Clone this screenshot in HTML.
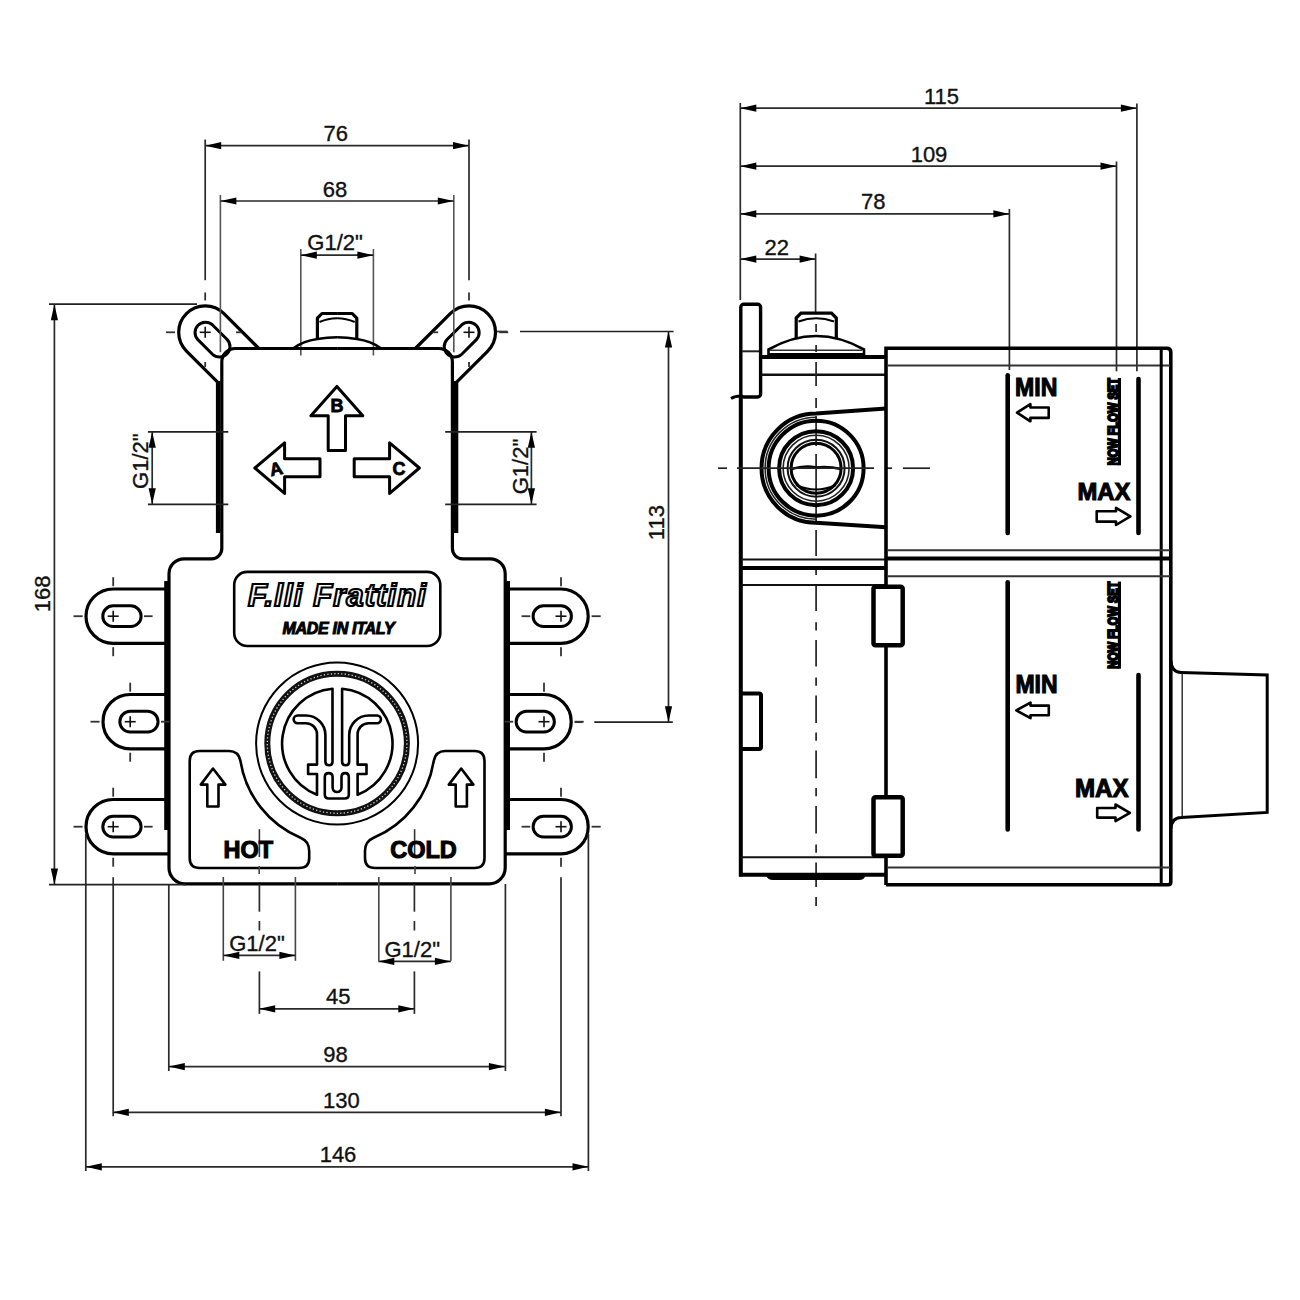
<!DOCTYPE html><html><head><meta charset="utf-8"><style>html,body{margin:0;padding:0;background:#fff;}svg{display:block;}text{font-family:"Liberation Sans",sans-serif;}</style></head><body>
<svg width="1300" height="1300" viewBox="0 0 1300 1300">
<rect width="1300" height="1300" fill="#fff"/>
<g id="half" stroke-linecap="butt" stroke-linejoin="round">
<path d="M258.88,348.5 L223.94,313.56 A26.5,26.5 0 0 0 186.46,313.56 A26.5,26.5 0 0 0 186.46,351.04 L217.82,382.4" stroke="#000" stroke-width="3.2" fill="none" />
<path d="M212.55,324.95 L227.15,339.55 A10.4,10.4 0 0 1 212.45,354.25 L197.85,339.65 A10.4,10.4 0 0 1 212.55,324.95 Z" stroke="#000" stroke-width="3" fill="none" />
<line x1="199.7" y1="332.3" x2="210.7" y2="332.3" stroke="#111" stroke-width="1.6" />
<line x1="205.2" y1="326.8" x2="205.2" y2="337.8" stroke="#111" stroke-width="1.6" />
<line x1="166" y1="332.3" x2="175" y2="332.3" stroke="#333" stroke-width="1.8" />
<line x1="236" y1="332.3" x2="241.5" y2="332.3" stroke="#333" stroke-width="1.8" />
<line x1="205.2" y1="362" x2="205.2" y2="367" stroke="#333" stroke-width="1.8" />
<line x1="205.2" y1="139.5" x2="205.2" y2="280.2" stroke="#2a2a2a" stroke-width="1.7" />
<line x1="205.2" y1="292.5" x2="205.2" y2="300.5" stroke="#2a2a2a" stroke-width="1.7" />
<line x1="220.4" y1="195" x2="220.4" y2="352.2" stroke="#555" stroke-width="1.6" />
<line x1="300.8" y1="249" x2="300.8" y2="355.5" stroke="#555" stroke-width="1.6" />
<path d="M235.4,348.5 L337.1,348.5 M221.8,362.1 A13.6,13.6 0 0 1 235.4,348.5 M337.1,883.8 L185,883.8 A16,16 0 0 1 169,867.8 L169,573.8 A15,15 0 0 1 184,558.8 L211.6,558.8 A10.2,10.2 0 0 0 221.8,548.6 L221.8,362.1" stroke="#000" stroke-width="3.2" fill="none" />
<line x1="218.2" y1="381" x2="218.2" y2="533" stroke="#000" stroke-width="4.6" />
<line x1="166.2" y1="581" x2="166.2" y2="830" stroke="#000" stroke-width="4" />
<path d="M166.2,589 L113.2,589 A27.2,27.2 0 0 0 113.2,643.4 L166.2,643.4" stroke="#000" stroke-width="3.2" fill="none" />
<path d="M113.2,605.8 L130.7,605.8 A10.4,10.4 0 0 1 130.7,626.6 L113.2,626.6 A10.4,10.4 0 0 1 113.2,605.8 Z" stroke="#000" stroke-width="3" fill="none" />
<line x1="107.7" y1="616.2" x2="118.7" y2="616.2" stroke="#111" stroke-width="1.6" />
<line x1="113.2" y1="610.7" x2="113.2" y2="621.7" stroke="#111" stroke-width="1.6" />
<line x1="73.5" y1="616.2" x2="82.6" y2="616.2" stroke="#333" stroke-width="1.8" />
<line x1="144" y1="616.2" x2="152.6" y2="616.2" stroke="#333" stroke-width="1.8" />
<line x1="113.2" y1="577.2" x2="113.2" y2="586.2" stroke="#333" stroke-width="1.8" />
<line x1="113.2" y1="647.2" x2="113.2" y2="656.2" stroke="#333" stroke-width="1.8" />
<path d="M166.2,694.5 L130.2,694.5 A27.2,27.2 0 0 0 130.2,748.9 L166.2,748.9" stroke="#000" stroke-width="3.2" fill="none" />
<path d="M130.2,711.3 L147.7,711.3 A10.4,10.4 0 0 1 147.7,732.1 L130.2,732.1 A10.4,10.4 0 0 1 130.2,711.3 Z" stroke="#000" stroke-width="3" fill="none" />
<line x1="124.7" y1="721.7" x2="135.7" y2="721.7" stroke="#111" stroke-width="1.6" />
<line x1="130.2" y1="716.2" x2="130.2" y2="727.2" stroke="#111" stroke-width="1.6" />
<line x1="90.5" y1="721.7" x2="99.6" y2="721.7" stroke="#333" stroke-width="1.8" />
<line x1="161" y1="721.7" x2="169.6" y2="721.7" stroke="#333" stroke-width="1.8" />
<line x1="130.2" y1="682.7" x2="130.2" y2="691.7" stroke="#333" stroke-width="1.8" />
<line x1="130.2" y1="752.7" x2="130.2" y2="761.7" stroke="#333" stroke-width="1.8" />
<path d="M166.2,799.5 L113.2,799.5 A27.2,27.2 0 0 0 113.2,853.9 L169.5,853.9" stroke="#000" stroke-width="3.2" fill="none" />
<path d="M113.2,816.3 L130.7,816.3 A10.4,10.4 0 0 1 130.7,837.1 L113.2,837.1 A10.4,10.4 0 0 1 113.2,816.3 Z" stroke="#000" stroke-width="3" fill="none" />
<line x1="107.7" y1="826.7" x2="118.7" y2="826.7" stroke="#111" stroke-width="1.6" />
<line x1="113.2" y1="821.2" x2="113.2" y2="832.2" stroke="#111" stroke-width="1.6" />
<line x1="73.5" y1="826.7" x2="82.6" y2="826.7" stroke="#333" stroke-width="1.8" />
<line x1="144" y1="826.7" x2="152.6" y2="826.7" stroke="#333" stroke-width="1.8" />
<line x1="113.2" y1="787.7" x2="113.2" y2="796.7" stroke="#333" stroke-width="1.8" />
<line x1="113.2" y1="857.7" x2="113.2" y2="866.7" stroke="#333" stroke-width="1.8" />
<line x1="113.2" y1="877.2" x2="113.2" y2="1116.2" stroke="#2a2a2a" stroke-width="1.7" />
<line x1="85.8" y1="834" x2="85.8" y2="1171" stroke="#2a2a2a" stroke-width="1.7" />
<line x1="168.8" y1="884" x2="168.8" y2="1071" stroke="#2a2a2a" stroke-width="1.7" />
<path d="M317.4,339.5 L317.4,318.2 L322,313.5 L337.1,313.5" stroke="#000" stroke-width="3.2" fill="none" />
<path d="M319.5,322 Q328,318.2 337.1,318.2" stroke="#000" stroke-width="2" fill="none" />
<path d="M293,348.5 Q303,341 317.4,339 Q327,337.3 337.1,337.3" stroke="#000" stroke-width="2.6" fill="none" />
<path d="M189.7,761 Q189.7,751 199.7,751 L229,751 Q238.5,751 240.5,761 A100,100 0 0 0 301,838 Q309.2,841.5 309.2,851 L309.2,858 Q309.2,868 299.2,868 L199.7,868 Q189.7,868 189.7,858 Z" stroke="#000" stroke-width="2.6" fill="none" />
<path d="M213,768.5 L225.4,784.6 L218.5,784.6 L218.5,806.5 L207.3,806.5 L207.3,784.6 L200.8,784.6 Z" stroke="#000" stroke-width="2.6" fill="none" />
<line x1="223.3" y1="877" x2="223.3" y2="960.8" stroke="#444" stroke-width="1.6" />
<line x1="295.4" y1="877" x2="295.4" y2="960.8" stroke="#444" stroke-width="1.6" />
<line x1="259.2" y1="866" x2="259.2" y2="874" stroke="#444" stroke-width="1.6" />
</g>
<use href="#half" transform="matrix(-1 0 0 1 674.2 0)"/>
<line x1="49" y1="304.2" x2="197" y2="304.2" stroke="#222" stroke-width="1.7" />
<line x1="49" y1="884.6" x2="186" y2="884.6" stroke="#222" stroke-width="1.7" />
<line x1="54.4" y1="304.2" x2="54.4" y2="884.6" stroke="#2a2a2a" stroke-width="1.7" />
<path d="M54.4,304.2 L58,320.2 L50.8,320.2 Z" fill="#000"/>
<path d="M54.4,884.6 L50.8,868.6 L58,868.6 Z" fill="#000"/>
<text x="50.5" y="593.8" font-size="22" text-anchor="middle" fill="#111" stroke="#111" stroke-width="0.35" transform="rotate(-90 50.5 593.8)" >168</text>
<line x1="147.9" y1="431.8" x2="228.3" y2="431.8" stroke="#222" stroke-width="1.7" />
<line x1="147.9" y1="504.3" x2="228.3" y2="504.3" stroke="#222" stroke-width="1.7" />
<line x1="152.2" y1="431.8" x2="152.2" y2="504.3" stroke="#2a2a2a" stroke-width="1.7" />
<path d="M152.2,431.8 L155.8,447.8 L148.6,447.8 Z" fill="#000"/>
<path d="M152.2,504.3 L148.6,488.3 L155.8,488.3 Z" fill="#000"/>
<text x="148.5" y="461.2" font-size="22" text-anchor="middle" fill="#111" stroke="#111" stroke-width="0.35" transform="rotate(-90 148.5 461.2)" >G1/2"</text>
<line x1="445.2" y1="431.8" x2="536.6" y2="431.8" stroke="#222" stroke-width="1.7" />
<line x1="445.2" y1="504.3" x2="536.6" y2="504.3" stroke="#222" stroke-width="1.7" />
<line x1="531.4" y1="431.8" x2="531.4" y2="504.3" stroke="#2a2a2a" stroke-width="1.7" />
<path d="M531.4,431.8 L535,447.8 L527.8,447.8 Z" fill="#000"/>
<path d="M531.4,504.3 L527.8,488.3 L535,488.3 Z" fill="#000"/>
<text x="527.5" y="466.5" font-size="22" text-anchor="middle" fill="#111" stroke="#111" stroke-width="0.35" transform="rotate(-90 527.5 466.5)" >G1/2"</text>
<line x1="497" y1="331.5" x2="507.5" y2="331.5" stroke="#333" stroke-width="1.7" />
<line x1="520" y1="331.5" x2="673.6" y2="331.5" stroke="#222" stroke-width="1.7" />
<line x1="574.7" y1="722.2" x2="582.6" y2="722.2" stroke="#333" stroke-width="1.7" />
<line x1="594.3" y1="722.2" x2="672.8" y2="722.2" stroke="#222" stroke-width="1.7" />
<line x1="668.5" y1="331.5" x2="668.5" y2="722.2" stroke="#2a2a2a" stroke-width="1.7" />
<path d="M668.5,331.5 L672.1,347.5 L664.9,347.5 Z" fill="#000"/>
<path d="M668.5,722.2 L664.9,706.2 L672.1,706.2 Z" fill="#000"/>
<text x="664.5" y="522.6" font-size="22" text-anchor="middle" fill="#111" stroke="#111" stroke-width="0.35" transform="rotate(-90 664.5 522.6)" >113</text>
<line x1="205.2" y1="145.7" x2="469" y2="145.7" stroke="#2a2a2a" stroke-width="1.7" />
<path d="M205.2,145.7 L221.2,142.1 L221.2,149.3 Z" fill="#000"/>
<path d="M469,145.7 L453,149.3 L453,142.1 Z" fill="#000"/>
<text x="335.7" y="140.8" font-size="22" text-anchor="middle" fill="#111" stroke="#111" stroke-width="0.35" >76</text>
<line x1="220.4" y1="201" x2="453.8" y2="201" stroke="#2a2a2a" stroke-width="1.7" />
<path d="M220.4,201 L236.4,197.4 L236.4,204.6 Z" fill="#000"/>
<path d="M453.8,201 L437.8,204.6 L437.8,197.4 Z" fill="#000"/>
<text x="335" y="197" font-size="22" text-anchor="middle" fill="#111" stroke="#111" stroke-width="0.35" >68</text>
<line x1="300.8" y1="255.2" x2="373.4" y2="255.2" stroke="#2a2a2a" stroke-width="1.7" />
<path d="M300.8,255.2 L316.8,251.6 L316.8,258.8 Z" fill="#000"/>
<path d="M373.4,255.2 L357.4,258.8 L357.4,251.6 Z" fill="#000"/>
<text x="335.1" y="250" font-size="22" text-anchor="middle" fill="#111" stroke="#111" stroke-width="0.35" >G1/2"</text>
<line x1="223.3" y1="955.4" x2="295.4" y2="955.4" stroke="#2a2a2a" stroke-width="1.7" />
<path d="M223.3,955.4 L239.3,951.8 L239.3,959 Z" fill="#000"/>
<path d="M295.4,955.4 L279.4,959 L279.4,951.8 Z" fill="#000"/>
<text x="257" y="951" font-size="22" text-anchor="middle" fill="#111" stroke="#111" stroke-width="0.35" >G1/2"</text>
<line x1="378.3" y1="961.4" x2="450.9" y2="961.4" stroke="#2a2a2a" stroke-width="1.7" />
<path d="M378.3,961.4 L394.3,957.8 L394.3,965 Z" fill="#000"/>
<path d="M450.9,961.4 L434.9,965 L434.9,957.8 Z" fill="#000"/>
<text x="412.2" y="956.5" font-size="22" text-anchor="middle" fill="#111" stroke="#111" stroke-width="0.35" >G1/2"</text>
<line x1="259.4" y1="884" x2="259.4" y2="911.7" stroke="#2a2a2a" stroke-width="1.7" />
<line x1="259.4" y1="921" x2="259.4" y2="930.5" stroke="#2a2a2a" stroke-width="1.7" />
<line x1="259.4" y1="971.4" x2="259.4" y2="1013.9" stroke="#2a2a2a" stroke-width="1.7" />
<line x1="414.4" y1="884" x2="414.4" y2="911.7" stroke="#2a2a2a" stroke-width="1.7" />
<line x1="414.4" y1="921" x2="414.4" y2="930.5" stroke="#2a2a2a" stroke-width="1.7" />
<line x1="414.4" y1="971.4" x2="414.4" y2="1013.9" stroke="#2a2a2a" stroke-width="1.7" />
<line x1="259.2" y1="1008.8" x2="414.3" y2="1008.8" stroke="#2a2a2a" stroke-width="1.7" />
<path d="M259.2,1008.8 L275.2,1005.2 L275.2,1012.4 Z" fill="#000"/>
<path d="M414.3,1008.8 L398.3,1012.4 L398.3,1005.2 Z" fill="#000"/>
<text x="338.2" y="1003.8" font-size="22" text-anchor="middle" fill="#111" stroke="#111" stroke-width="0.35" >45</text>
<line x1="168.8" y1="1066.6" x2="504.9" y2="1066.6" stroke="#2a2a2a" stroke-width="1.7" />
<path d="M168.8,1066.6 L184.8,1063 L184.8,1070.2 Z" fill="#000"/>
<path d="M504.9,1066.6 L488.9,1070.2 L488.9,1063 Z" fill="#000"/>
<text x="335.5" y="1062.3" font-size="22" text-anchor="middle" fill="#111" stroke="#111" stroke-width="0.35" >98</text>
<line x1="112.8" y1="1112.3" x2="560.9" y2="1112.3" stroke="#2a2a2a" stroke-width="1.7" />
<path d="M112.8,1112.3 L128.8,1108.7 L128.8,1115.9 Z" fill="#000"/>
<path d="M560.9,1112.3 L544.9,1115.9 L544.9,1108.7 Z" fill="#000"/>
<text x="341.4" y="1107.5" font-size="22" text-anchor="middle" fill="#111" stroke="#111" stroke-width="0.35" >130</text>
<line x1="85.8" y1="1166.8" x2="588.5" y2="1166.8" stroke="#2a2a2a" stroke-width="1.7" />
<path d="M85.8,1166.8 L101.8,1163.2 L101.8,1170.4 Z" fill="#000"/>
<path d="M588.5,1166.8 L572.5,1170.4 L572.5,1163.2 Z" fill="#000"/>
<text x="338" y="1161.8" font-size="22" text-anchor="middle" fill="#111" stroke="#111" stroke-width="0.35" >146</text>
<path d="M336.9,386.4 L362.8,415.8 L345.5,415.8 L345.5,450.5 L328.2,450.5 L328.2,415.8 L310.9,415.8 Z" stroke="#000" stroke-width="3" fill="none" stroke-linejoin="round"/>
<path d="M254.8,468 L284.6,442.8 L284.6,458.8 L320,458.8 L320,476.8 L284.6,476.8 L284.6,493.4 Z" stroke="#000" stroke-width="3" fill="none" stroke-linejoin="round"/>
<path d="M419.4,468 L389.6,442.8 L389.6,458.8 L354.2,458.8 L354.2,476.8 L389.6,476.8 L389.6,493.4 Z" stroke="#000" stroke-width="3" fill="none" stroke-linejoin="round"/>
<text x="337" y="412" font-size="18" font-weight="bold" text-anchor="middle" fill="#000" stroke="#000" stroke-width="0.8">B</text>
<text x="276" y="475" font-size="18" font-weight="bold" text-anchor="middle" fill="#000" stroke="#000" stroke-width="0.8" transform="rotate(-12 276 468)">A</text>
<text x="399" y="475" font-size="18" font-weight="bold" text-anchor="middle" fill="#000" stroke="#000" stroke-width="0.8">C</text>
<rect x="234.2" y="571.9" width="206.1" height="74.1" rx="13" fill="none" stroke="#000" stroke-width="2.6"/>
<text x="337.5" y="605.5" font-size="31" font-weight="bold" font-style="italic" text-anchor="middle" fill="#fff" stroke="#000" stroke-width="2.2" letter-spacing="1.1">F.lli Frattini</text>
<text x="338.5" y="634" font-size="16" font-weight="bold" font-style="italic" text-anchor="middle" fill="#000" stroke="#000" stroke-width="1" letter-spacing="-0.3">MADE IN ITALY</text>
<circle cx="337.1" cy="743.5" r="81" fill="none" stroke="#000" stroke-width="2"/>
<circle cx="337.1" cy="743.5" r="69.8" fill="none" stroke="#111" stroke-width="6"/>
<circle cx="337.1" cy="743.5" r="69.8" fill="none" stroke="#fff" stroke-width="1.3" stroke-dasharray="1.3 2.2" opacity="0.8"/>
<g id="logoL" stroke-linejoin="round">
<path d="M332.5,688.7 A55,55 0 0 0 317,794.7 L317,774 L308.1,774 L308.1,764.6 L317,764.6 L317,734.5 A11.1,11.1 0 0 0 305.9,723.2 L297.5,723.2 A3.85,3.85 0 0 1 297.5,715.5 L305.9,715.5 A19.5,19.5 0 0 1 325.4,735 L325.4,761.5 Q325.4,765.3 329,765.3 Q332.5,765.3 332.5,761.5 Z" stroke="#000" stroke-width="2.6" fill="none" />
</g>
<use href="#logoL" transform="matrix(-1 0 0 1 674.6 0)"/>
<path d="M324.8,794.5 L324.8,777 Q324.8,773.1 328.7,773.1 Q332.6,773.1 332.6,777 L332.6,787.6 A4.45,4.45 0 0 0 341.5,787.6 L341.5,777 Q341.5,773.1 345.15,773.1 Q348.8,773.1 348.8,777 L348.8,794.5 Q348.8,798.5 344.8,798.5 L328.8,798.5 Q324.8,798.5 324.8,794.5 Z" stroke="#000" stroke-width="2.6" fill="none" />
<line x1="259.4" y1="829.2" x2="259.4" y2="857" stroke="#333" stroke-width="1.6" />
<line x1="414.6" y1="829.2" x2="414.6" y2="857" stroke="#333" stroke-width="1.6" />
<text x="248.4" y="858.3" font-size="23.5" font-weight="bold" text-anchor="middle" fill="#000" stroke="#000" stroke-width="1.1">HOT</text>
<text x="423.5" y="857.8" font-size="23.5" font-weight="bold" text-anchor="middle" fill="#000" stroke="#000" stroke-width="1.1">COLD</text>
<line x1="740.3" y1="103" x2="740.3" y2="300" stroke="#2a2a2a" stroke-width="1.7" />
<line x1="740.3" y1="108.2" x2="1136.9" y2="108.2" stroke="#2a2a2a" stroke-width="1.7" />
<path d="M740.3,108.2 L756.3,104.6 L756.3,111.8 Z" fill="#000"/>
<path d="M1136.9,108.2 L1120.9,111.8 L1120.9,104.6 Z" fill="#000"/>
<text x="941.5" y="104" font-size="22" text-anchor="middle" fill="#111" stroke="#111" stroke-width="0.35" >115</text>
<line x1="1136.9" y1="103.4" x2="1136.9" y2="371.3" stroke="#2a2a2a" stroke-width="1.7" />
<line x1="740.3" y1="166.2" x2="1116.5" y2="166.2" stroke="#2a2a2a" stroke-width="1.7" />
<path d="M740.3,166.2 L756.3,162.6 L756.3,169.8 Z" fill="#000"/>
<path d="M1116.5,166.2 L1100.5,169.8 L1100.5,162.6 Z" fill="#000"/>
<text x="929" y="162.2" font-size="22" text-anchor="middle" fill="#111" stroke="#111" stroke-width="0.35" >109</text>
<line x1="1116.5" y1="161.5" x2="1116.5" y2="371.3" stroke="#2a2a2a" stroke-width="1.7" />
<line x1="740.3" y1="213.9" x2="1009.4" y2="213.9" stroke="#2a2a2a" stroke-width="1.7" />
<path d="M740.3,213.9 L756.3,210.3 L756.3,217.5 Z" fill="#000"/>
<path d="M1009.4,213.9 L993.4,217.5 L993.4,210.3 Z" fill="#000"/>
<text x="873.2" y="209.2" font-size="22" text-anchor="middle" fill="#111" stroke="#111" stroke-width="0.35" >78</text>
<line x1="1009.4" y1="208.9" x2="1009.4" y2="370" stroke="#2a2a2a" stroke-width="1.7" />
<line x1="740.3" y1="259.1" x2="815.6" y2="259.1" stroke="#2a2a2a" stroke-width="1.7" />
<path d="M740.3,259.1 L756.3,255.5 L756.3,262.7 Z" fill="#000"/>
<path d="M815.6,259.1 L799.6,262.7 L799.6,255.5 Z" fill="#000"/>
<text x="776.7" y="254.5" font-size="22" text-anchor="middle" fill="#111" stroke="#111" stroke-width="0.35" >22</text>
<line x1="815.6" y1="253.5" x2="815.6" y2="313" stroke="#2a2a2a" stroke-width="1.7" />
<rect x="740.8" y="304.2" width="19.8" height="92.8" rx="3" fill="none" stroke="#000" stroke-width="3.4"/>
<line x1="742" y1="351.3" x2="759" y2="351.3" stroke="#222" stroke-width="2" />
<path d="M731,398.5 Q735,396 741,396" stroke="#000" stroke-width="3" fill="none" />
<line x1="740.8" y1="397" x2="740.8" y2="876.5" stroke="#000" stroke-width="4" />
<line x1="760.6" y1="357" x2="886" y2="357" stroke="#000" stroke-width="4" />
<line x1="760.6" y1="374.7" x2="886" y2="374.7" stroke="#111" stroke-width="2.4" />
<path d="M796.2,338.5 L796.2,318 L801,313.2 L831.5,313.2 L836.3,318 L836.3,338.5" stroke="#000" stroke-width="3.2" fill="none" />
<path d="M798.5,321.5 Q816.2,315 834,321.5" stroke="#000" stroke-width="2" fill="none" />
<path d="M768.5,355 L768.5,349.5 Q816.2,322.5 864,349.5 L864,355" stroke="#000" stroke-width="2.6" fill="none" />
<line x1="768.5" y1="355" x2="864" y2="355" stroke="#000" stroke-width="4" />
<line x1="770" y1="350.3" x2="862" y2="350.3" stroke="#333" stroke-width="1.6" />
<line x1="816.1" y1="324" x2="816.1" y2="332" stroke="#222" stroke-width="1.7" />
<line x1="816.1" y1="345" x2="816.1" y2="352" stroke="#222" stroke-width="1.7" />
<line x1="816.1" y1="362" x2="816.1" y2="386" stroke="#222" stroke-width="1.7" />
<line x1="816.1" y1="398" x2="816.1" y2="408" stroke="#222" stroke-width="1.7" />
<line x1="816.1" y1="416" x2="816.1" y2="446" stroke="#222" stroke-width="1.7" />
<line x1="816.1" y1="454" x2="816.1" y2="522" stroke="#222" stroke-width="1.7" />
<line x1="816.1" y1="530" x2="816.1" y2="556" stroke="#222" stroke-width="1.7" />
<line x1="816.1" y1="567" x2="816.1" y2="575" stroke="#222" stroke-width="1.7" />
<line x1="816.1" y1="584.9" x2="816.1" y2="611.1" stroke="#222" stroke-width="1.7" />
<line x1="816.1" y1="622.2" x2="816.1" y2="630.4" stroke="#222" stroke-width="1.7" />
<line x1="816.1" y1="640.1" x2="816.1" y2="666.4" stroke="#222" stroke-width="1.7" />
<line x1="816.1" y1="677.4" x2="816.1" y2="685.7" stroke="#222" stroke-width="1.7" />
<line x1="816.1" y1="695.4" x2="816.1" y2="723" stroke="#222" stroke-width="1.7" />
<line x1="816.1" y1="732.4" x2="816.1" y2="740.7" stroke="#222" stroke-width="1.7" />
<line x1="816.1" y1="750.6" x2="816.1" y2="778.2" stroke="#222" stroke-width="1.7" />
<line x1="816.1" y1="787.9" x2="816.1" y2="796.2" stroke="#222" stroke-width="1.7" />
<line x1="816.1" y1="805.9" x2="816.1" y2="833.5" stroke="#222" stroke-width="1.7" />
<line x1="816.1" y1="844.5" x2="816.1" y2="852.8" stroke="#222" stroke-width="1.7" />
<line x1="816.1" y1="862.5" x2="816.1" y2="887" stroke="#222" stroke-width="1.7" />
<line x1="816.1" y1="897" x2="816.1" y2="906" stroke="#222" stroke-width="1.7" />
<path d="M886,408.5 L816.1,413.6 A54.6,54.6 0 0 0 816.1,522.8 L886,527.2" stroke="#000" stroke-width="4" fill="none" />
<path d="M816.1,417.2 A51,51 0 0 0 816.1,519.2" stroke="#222" stroke-width="1.5" fill="none" />
<circle cx="816.1" cy="468.2" r="47.5" fill="none" stroke="#000" stroke-width="4" />
<circle cx="816.1" cy="468.2" r="37" fill="none" stroke="#000" stroke-width="4" />
<circle cx="816.1" cy="468.2" r="33" fill="none" stroke="#222" stroke-width="1.6" />
<circle cx="816.1" cy="468.2" r="28.5" fill="none" stroke="#111" stroke-width="2" />
<circle cx="816.1" cy="468.2" r="25" fill="none" stroke="#000" stroke-width="3" />
<path d="M791.5,469 Q805,465 816,467.5 Q828,466 841,469" stroke="#000" stroke-width="2.4" fill="none" />
<path d="M796,485 Q816,494 836,485" stroke="#000" stroke-width="2" fill="none" />
<line x1="718" y1="468.2" x2="727" y2="468.2" stroke="#222" stroke-width="1.7" />
<line x1="737" y1="468.2" x2="874" y2="468.2" stroke="#222" stroke-width="1.7" />
<line x1="885.6" y1="468.2" x2="892" y2="468.2" stroke="#222" stroke-width="1.7" />
<line x1="903" y1="468.2" x2="930" y2="468.2" stroke="#222" stroke-width="1.7" />
<line x1="741" y1="559.5" x2="886" y2="559.5" stroke="#111" stroke-width="2" />
<line x1="741" y1="567.9" x2="886" y2="567.9" stroke="#000" stroke-width="4" />
<line x1="741" y1="585" x2="886" y2="585" stroke="#111" stroke-width="2" />
<line x1="741" y1="857.3" x2="886" y2="857.3" stroke="#111" stroke-width="2" />
<line x1="739" y1="874.8" x2="886" y2="874.8" stroke="#000" stroke-width="4" />
<path d="M765.5,874.5 Q767.5,880 773,880 L859,880 Q864.5,880 866,874.5 Z" fill="#000"/>
<path d="M741,693.5 L759,693.5 Q761,693.5 761,695.5 L761,747 Q761,749 759,749 L741,749" stroke="#000" stroke-width="4" fill="none" />
<path d="M886,885 L886,348.3 L1166.8,348.3 Q1170.8,348.3 1170.8,352.3 L1170.8,882 Q1170.8,884.7 1168,884.7 L886,884.7" stroke="#000" stroke-width="3.6" fill="none" />
<line x1="887" y1="365.5" x2="1170" y2="365.5" stroke="#333" stroke-width="2" />
<line x1="1161.2" y1="349" x2="1161.2" y2="884" stroke="#000" stroke-width="3" />
<line x1="887" y1="550.2" x2="1170" y2="550.2" stroke="#333" stroke-width="2" />
<line x1="887" y1="558.5" x2="1170" y2="558.5" stroke="#000" stroke-width="4" />
<line x1="887" y1="576.2" x2="1170" y2="576.2" stroke="#333" stroke-width="2" />
<line x1="887" y1="867.4" x2="1170" y2="867.4" stroke="#333" stroke-width="2" />
<rect x="873.5" y="586.8" width="29.2" height="58.5" rx="2" fill="#fff" stroke="#000" stroke-width="4.5"/>
<rect x="873.5" y="797.3" width="29.2" height="58.5" rx="2" fill="#fff" stroke="#000" stroke-width="4.5"/>
<line x1="1007.7" y1="375.2" x2="1007.7" y2="532.9" stroke="#000" stroke-width="4.6" stroke-linecap="round"/>
<line x1="1007.7" y1="582.2" x2="1007.7" y2="829.4" stroke="#000" stroke-width="4.6" stroke-linecap="round"/>
<line x1="1138.5" y1="379" x2="1138.5" y2="532.9" stroke="#000" stroke-width="4.6" stroke-linecap="round"/>
<line x1="1138.5" y1="675" x2="1138.5" y2="829.4" stroke="#000" stroke-width="4.6" stroke-linecap="round"/>
<line x1="1119.4" y1="378" x2="1119.4" y2="465.3" stroke="#000" stroke-width="3.2" />
<text x="1117.6" y="421.65" font-size="15.5" font-weight="bold" text-anchor="middle" fill="#000" stroke="#000" stroke-width="2" transform="rotate(-90 1117.6 421.65)" textLength="87.3" lengthAdjust="spacingAndGlyphs">NOW FLOW SET</text>
<line x1="1119.4" y1="581.6" x2="1119.4" y2="668.7" stroke="#000" stroke-width="3.2" />
<text x="1117.6" y="625.15" font-size="15.5" font-weight="bold" text-anchor="middle" fill="#000" stroke="#000" stroke-width="2" transform="rotate(-90 1117.6 625.15)" textLength="87.1" lengthAdjust="spacingAndGlyphs">NOW FLOW SET</text>
<text x="1036.15" y="396.3" font-size="24.86" font-weight="bold" text-anchor="middle" fill="#000" stroke="#000" stroke-width="1.1" textLength="42.3" lengthAdjust="spacingAndGlyphs">MIN</text>
<text x="1036.45" y="693.4" font-size="25" font-weight="bold" text-anchor="middle" fill="#000" stroke="#000" stroke-width="1.1" textLength="42.1" lengthAdjust="spacingAndGlyphs">MIN</text>
<text x="1103.95" y="500.2" font-size="24.72" font-weight="bold" text-anchor="middle" fill="#000" stroke="#000" stroke-width="1.1" textLength="52.9" lengthAdjust="spacingAndGlyphs">MAX</text>
<text x="1101.8" y="796.7" font-size="25" font-weight="bold" text-anchor="middle" fill="#000" stroke="#000" stroke-width="1.1" textLength="53.6" lengthAdjust="spacingAndGlyphs">MAX</text>
<path d="M1017,412.7 L1030.4,404.1 L1030.4,407.5 L1048.7,407.5 L1048.7,417.9 L1030.4,417.9 L1030.4,421.3 Z" stroke="#000" stroke-width="2.6" fill="none" stroke-linejoin="round"/>
<path d="M1016.3,710.4 L1030.5,702.6 L1030.5,705.6 L1048.8,705.6 L1048.8,715.2 L1030.5,715.2 L1030.5,718.2 Z" stroke="#000" stroke-width="2.6" fill="none" stroke-linejoin="round"/>
<path d="M1130.4,516.4 L1116,507.8 L1116,511.2 L1096.7,511.2 L1096.7,521.6 L1116,521.6 L1116,525 Z" stroke="#000" stroke-width="2.6" fill="none" stroke-linejoin="round"/>
<path d="M1129.9,812.8 L1115.5,804.5 L1115.5,808 L1097.2,808 L1097.2,817.6 L1115.5,817.6 L1115.5,821.1 Z" stroke="#000" stroke-width="2.6" fill="none" stroke-linejoin="round"/>
<path d="M1170.8,660 Q1171.5,672.4 1181,672.6 L1267.2,675 L1267.2,812.4 L1181,817.4 Q1171.5,817.6 1170.8,829" stroke="#000" stroke-width="3" fill="none" />
<line x1="1182.2" y1="673.5" x2="1182.2" y2="816.5" stroke="#333" stroke-width="1.5" />
</svg></body></html>
